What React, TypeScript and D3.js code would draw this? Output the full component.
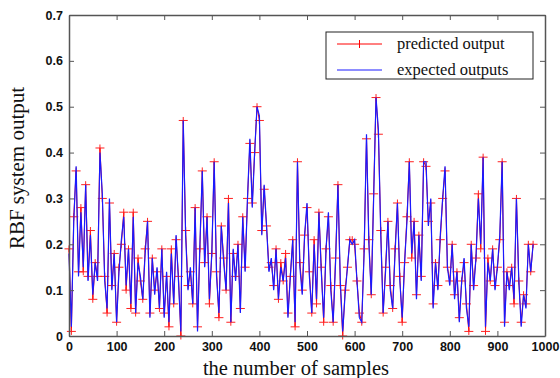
import React, { useEffect, useRef } from "react";
import * as d3 from "d3";

// sample index step between stored points
const sampleStep = 5;

// expected outputs, every 5 samples (0..975)
const expectedOutputs = [
  0.18, 0.02, 0.25, 0.37, 0.13, 0.27, 0.15, 0.33, 0.12, 0.22,
  0.09, 0.16, 0.12, 0.40, 0.31, 0.12, 0.06, 0.30, 0.10, 0.18,
  0.03, 0.14, 0.21, 0.26, 0.11, 0.19, 0.07, 0.26, 0.05, 0.16,
  0.13, 0.08, 0.18, 0.25, 0.04, 0.17, 0.09, 0.15, 0.06, 0.19,
  0.04, 0.14, 0.03, 0.18, 0.07, 0.22, 0.12, 0.01, 0.47, 0.22,
  0.10, 0.15, 0.07, 0.28, 0.01, 0.20, 0.36, 0.15, 0.26, 0.08,
  0.18, 0.38, 0.13, 0.05, 0.24, 0.16, 0.10, 0.29, 0.03, 0.19,
  0.12, 0.20, 0.05, 0.26, 0.14, 0.30, 0.43, 0.28, 0.40, 0.50,
  0.48, 0.22, 0.33, 0.24, 0.14, 0.17, 0.10, 0.19, 0.08, 0.15,
  0.12, 0.17, 0.04, 0.13, 0.21, 0.03, 0.38, 0.15, 0.09, 0.22,
  0.29, 0.13, 0.05, 0.20, 0.08, 0.27, 0.14, 0.04, 0.19, 0.27,
  0.10, 0.03, 0.16, 0.33, 0.12, 0.01, 0.09, 0.15, 0.21, 0.20,
  0.21, 0.12, 0.04, 0.03, 0.18, 0.44, 0.20, 0.09, 0.30, 0.52,
  0.45, 0.22, 0.05, 0.14, 0.25, 0.10, 0.06, 0.18, 0.29, 0.12,
  0.04, 0.16, 0.25, 0.38, 0.18, 0.25, 0.08, 0.22, 0.12, 0.38,
  0.38, 0.24, 0.30, 0.06, 0.16, 0.10, 0.22, 0.30, 0.37, 0.15,
  0.11, 0.20, 0.08, 0.14, 0.03, 0.12, 0.17, 0.06, 0.02, 0.20,
  0.10, 0.17, 0.30, 0.20, 0.39, 0.02, 0.16, 0.12, 0.19, 0.10,
  0.15, 0.22, 0.38, 0.02, 0.14, 0.10, 0.15, 0.08, 0.30, 0.12,
  0.02, 0.09, 0.06, 0.20, 0.14, 0.20,
];

// predicted output, almost on top of the expected one
const predictedOutput = [
  0.19, 0.01, 0.26, 0.36, 0.14, 0.28, 0.14, 0.33, 0.13, 0.23,
  0.08, 0.16, 0.13, 0.41, 0.30, 0.13, 0.05, 0.29, 0.11, 0.18,
  0.03, 0.15, 0.20, 0.27, 0.10, 0.19, 0.06, 0.27, 0.05, 0.17,
  0.12, 0.08, 0.19, 0.25, 0.05, 0.17, 0.10, 0.14, 0.06, 0.19,
  0.05, 0.13, 0.02, 0.19, 0.07, 0.21, 0.13, 0.00, 0.47, 0.23,
  0.11, 0.14, 0.07, 0.28, 0.02, 0.19, 0.36, 0.16, 0.26, 0.07,
  0.18, 0.38, 0.14, 0.04, 0.24, 0.17, 0.10, 0.30, 0.03, 0.18,
  0.13, 0.20, 0.06, 0.26, 0.15, 0.30, 0.42, 0.29, 0.40, 0.50,
  0.47, 0.23, 0.32, 0.24, 0.15, 0.16, 0.11, 0.19, 0.08, 0.16,
  0.12, 0.18, 0.05, 0.13, 0.21, 0.02, 0.38, 0.16, 0.10, 0.22,
  0.28, 0.14, 0.05, 0.21, 0.07, 0.27, 0.15, 0.03, 0.19, 0.26,
  0.11, 0.03, 0.17, 0.33, 0.11, 0.00, 0.10, 0.15, 0.21, 0.21,
  0.20, 0.12, 0.05, 0.03, 0.19, 0.43, 0.21, 0.09, 0.31, 0.52,
  0.44, 0.23, 0.05, 0.15, 0.25, 0.11, 0.06, 0.19, 0.29, 0.13,
  0.03, 0.16, 0.26, 0.38, 0.17, 0.25, 0.09, 0.22, 0.13, 0.38,
  0.37, 0.25, 0.29, 0.07, 0.16, 0.11, 0.21, 0.30, 0.36, 0.15,
  0.12, 0.20, 0.09, 0.14, 0.04, 0.12, 0.16, 0.07, 0.01, 0.20,
  0.11, 0.17, 0.31, 0.19, 0.39, 0.01, 0.17, 0.12, 0.19, 0.11,
  0.15, 0.21, 0.38, 0.03, 0.14, 0.11, 0.15, 0.07, 0.30, 0.12,
  0.03, 0.09, 0.07, 0.20, 0.14, 0.20,
];

const xTicks = [0, 100, 200, 300, 400, 500, 600, 700, 800, 900, 1000];
const yTicks = [0, 0.1, 0.2, 0.3, 0.4, 0.5, 0.6, 0.7];
const legendLabels = ["predicted output", "expected outputs"];

const width = 560;
const height = 378;
const margin = { top: 15, right: 15, bottom: 42, left: 69 };

export default function App() {
  const ref = useRef<SVGSVGElement>(null);

  useEffect(() => {
    const svg = d3.select(ref.current);
    svg.selectAll("*").remove();

    const x = d3.scaleLinear().domain([0, 1000]).range([margin.left, width - margin.right]);
    const y = d3.scaleLinear().domain([0, 0.7]).range([height - margin.bottom, margin.top]);
    const axisColor = "#555";

    const g = svg.append("g");

    // series
    const line = d3
      .line<number>()
      .x((d, i) => x(i * sampleStep))
      .y((d) => y(d));

    g.append("path")
      .datum(predictedOutput)
      .attr("d", line)
      .attr("fill", "none")
      .attr("stroke", "#ff0000")
      .attr("stroke-width", 1);

    const plus = g.append("g").attr("stroke", "#ff2020").attr("stroke-width", 1);
    predictedOutput.forEach((v, i) => {
      const px = x(i * sampleStep);
      const py = y(v);
      plus.append("line").attr("x1", px - 4.5).attr("x2", px + 4.5).attr("y1", py).attr("y2", py);
      plus.append("line").attr("x1", px).attr("x2", px).attr("y1", py - 3.5).attr("y2", py + 3.5);
    });

    g.append("path")
      .datum(expectedOutputs)
      .attr("d", line)
      .attr("fill", "none")
      .attr("stroke", "#1a1aff")
      .attr("stroke-width", 1.2);

    // axes box with inward ticks
    const ax = svg.append("g");
    const tickLen = 5;
    const bottom = height - margin.bottom;
    const right = width - margin.right;

    const bottomAxis = ax.append("g").attr("transform", `translate(0,${bottom})`)
      .call(d3.axisBottom(x).tickValues(xTicks).tickSizeInner(-tickLen).tickSizeOuter(0).tickPadding(6).tickFormat(d3.format("d")));
    const topAxis = ax.append("g").attr("transform", `translate(0,${margin.top})`)
      .call(d3.axisTop(x).tickValues(xTicks).tickSizeInner(-tickLen).tickSizeOuter(0).tickFormat(() => ""));
    const leftAxis = ax.append("g").attr("transform", `translate(${margin.left},0)`)
      .call(d3.axisLeft(y).tickValues(yTicks).tickSizeInner(-tickLen).tickSizeOuter(0).tickPadding(6)
        .tickFormat((d) => (d === 0 ? "0" : d3.format(".1f")(d as number))));
    const rightAxis = ax.append("g").attr("transform", `translate(${right},0)`)
      .call(d3.axisRight(y).tickValues(yTicks).tickSizeInner(-tickLen).tickSizeOuter(0).tickFormat(() => ""));

    [bottomAxis, topAxis, leftAxis, rightAxis].forEach((a) => {
      a.select(".domain").attr("stroke", axisColor).attr("stroke-width", 1.5);
      a.selectAll(".tick line").attr("stroke", axisColor);
      a.selectAll("text")
        .attr("font-family", "Arial, 'Liberation Sans', sans-serif")
        .attr("font-weight", "bold")
        .attr("font-size", 12.5)
        .attr("fill", "#111");
    });

    // axis titles
    svg.append("text")
      .attr("x", 296)
      .attr("y", 375)
      .attr("text-anchor", "middle")
      .attr("font-family", "'Liberation Serif', 'Times New Roman', serif")
      .attr("font-size", 20.5)
      .attr("fill", "#111")
      .text("the number of samples");

    svg.append("text")
      .attr("transform", `translate(24,168) rotate(-90)`)
      .attr("text-anchor", "middle")
      .attr("font-family", "'Liberation Serif', 'Times New Roman', serif")
      .attr("font-size", 21)
      .attr("fill", "#111")
      .text("RBF system output");

    // legend
    const lg = svg.append("g");
    lg.append("rect")
      .attr("x", 326).attr("y", 32).attr("width", 207).attr("height", 47)
      .attr("fill", "#fff").attr("stroke", "#222").attr("stroke-width", 1);
    const colors = ["#ff0000", "#1a1aff"];
    legendLabels.forEach((label, i) => {
      const ly = 44 + i * 26;
      lg.append("line").attr("x1", 337).attr("x2", 382).attr("y1", ly).attr("y2", ly)
        .attr("stroke", colors[i]).attr("stroke-width", 1);
      if (i === 0) {
        lg.append("line").attr("x1", 359.5).attr("x2", 359.5).attr("y1", ly - 4).attr("y2", ly + 4)
          .attr("stroke", colors[i]).attr("stroke-width", 1);
      }
      lg.append("text")
        .attr("x", 397).attr("y", ly + 5)
        .attr("font-family", "'Liberation Serif', 'Times New Roman', serif")
        .attr("font-size", 16.5)
        .attr("fill", "#111")
        .text(label);
    });
  }, []);

  return (
    <svg
      ref={ref}
      width={width}
      height={height}
      style={{ position: "absolute", left: 0, top: 0, background: "#fff" }}
    />
  );
}
